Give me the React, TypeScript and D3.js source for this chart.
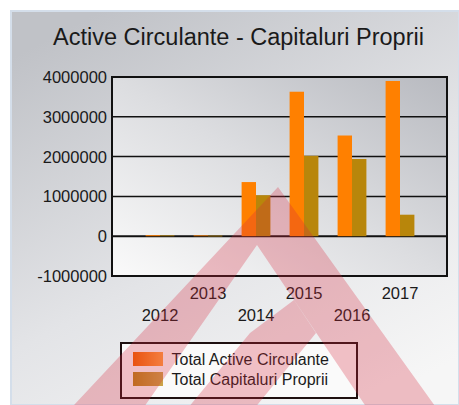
import * as d3 from "d3";

const years = ["2012", "2013", "2014", "2015", "2016", "2017"];
const activeCirculante = [25000, 20000, 1360000, 3630000, 2530000, 3900000];
const capitaluriProprii = [20000, 15000, 1030000, 2020000, 1940000, 540000];
const yTicks = [-1000000, 0, 1000000, 2000000, 3000000, 4000000];
const seriesNames = ["Total Active Circulante", "Total Capitaluri Proprii"];
const seriesColors = ["#ff8000", "#b8860b"];

const W = 459;
const H = 405;
const plot = { left: 112, right: 447, top: 77, bottom: 276 };
const FONT = "Arial, 'Liberation Sans', sans-serif";

export default function App() {
  const x = d3.scalePoint<string>().domain(years).range([160, 400]);
  const y = d3.scaleLinear().domain([-1000000, 4000000]).range([plot.bottom, plot.top]);
  const barW = 14.4;

  // watermark (logo) outline
  const mark = d3.path();
  const arms: [number, number][] = [[278, 187], [445, 420], [375, 420], [257, 245], [135, 420], [60, 420]];
  const inner: [number, number][] = [[294, 300], [250, 333], [178, 420], [245, 420], [316, 333]];
  [arms, inner].forEach((pts) => {
    pts.forEach(([px, py], i) => (i ? mark.lineTo(px, py) : mark.moveTo(px, py)));
    mark.closePath();
  });

  return (
    <svg width={W} height={H} style={{ position: "fixed", left: 0, top: 0 }} fontFamily={FONT}>
      <defs>
        <linearGradient id="bg" x1="0.2" y1="0" x2="0.8" y2="1">
          <stop offset="0" stopColor="#c0c2c7" />
          <stop offset="0.55" stopColor="#e3e4e7" />
          <stop offset="1" stopColor="#f6f6f6" />
        </linearGradient>
        <linearGradient id="pa" x1="0" y1="1" x2="1" y2="0">
          <stop offset="0" stopColor="#fafafa" />
          <stop offset="0.5" stopColor="#dcdde0" />
          <stop offset="1" stopColor="#b8bac0" />
        </linearGradient>
        <linearGradient id="lg0" x1="0" x2="1">
          <stop offset="0" stopColor="#f06400" />
          <stop offset="1" stopColor="#ffa040" />
        </linearGradient>
        <linearGradient id="lg1" x1="0" x2="1">
          <stop offset="0" stopColor="#b88418" />
          <stop offset="1" stopColor="#cca44a" />
        </linearGradient>
      </defs>
      <rect x={0} y={0} width={W} height={H} fill="#fff" />
      <rect x={11} y={11} width={W - 11} height={H - 11} fill="url(#bg)" stroke="#d4deea" strokeWidth={2} />

      <text x={238.5} y={44.5} textAnchor="middle" fontSize={23.5} fill="#1a1a1a">
        Active Circulante - Capitaluri Proprii
      </text>

      <rect x={plot.left} y={plot.top} width={plot.right - plot.left} height={plot.bottom - plot.top} fill="url(#pa)" />
      {yTicks.slice(1, -1).map((t) => (
        <line key={t} x1={plot.left} x2={plot.right} y1={y(t)} y2={y(t)} stroke="#111" strokeWidth={t === 0 ? 2 : 1.5} />
      ))}

      {years.map((yr, i) => (
        <g key={yr}>
          {[activeCirculante[i], capitaluriProprii[i]].map((v, s) => (
            <rect
              key={s}
              x={(x(yr) as number) - barW + s * barW}
              y={y(Math.max(0, v))}
              width={barW}
              height={Math.max(0.8, Math.abs(y(v) - y(0)))}
              fill={seriesColors[s]}
            />
          ))}
        </g>
      ))}

      <rect x={plot.left} y={plot.top} width={plot.right - plot.left} height={plot.bottom - plot.top} fill="none" stroke="#111" strokeWidth={2} />

      {yTicks.map((t) => (
        <text key={t} x={107} y={y(t) + 6} textAnchor="end" fontSize={16.5} fill="#1a1a1a">
          {t}
        </text>
      ))}
      {years.map((yr, i) => (
        <text key={yr} x={x(yr) as number} y={i % 2 ? 299 : 321} textAnchor="middle" fontSize={16.5} fill="#1a1a1a">
          {yr}
        </text>
      ))}

      <rect x={121} y={343} width={236} height={55} fill="#fafafa" stroke="#1e1010" strokeWidth={2} />
      {seriesNames.map((n, i) => (
        <g key={n}>
          <rect x={133} y={352 + i * 20} width={30} height={14} fill={`url(#lg${i})`} />
          <text x={171.5} y={364.5 + i * 20} fontSize={16} fill="#1a1a1a">
            {n}
          </text>
        </g>
      ))}

      <path d={mark.toString()} fill="#d8283c" fillOpacity={0.28} style={{ pointerEvents: "none" }} />
    </svg>
  );
}
